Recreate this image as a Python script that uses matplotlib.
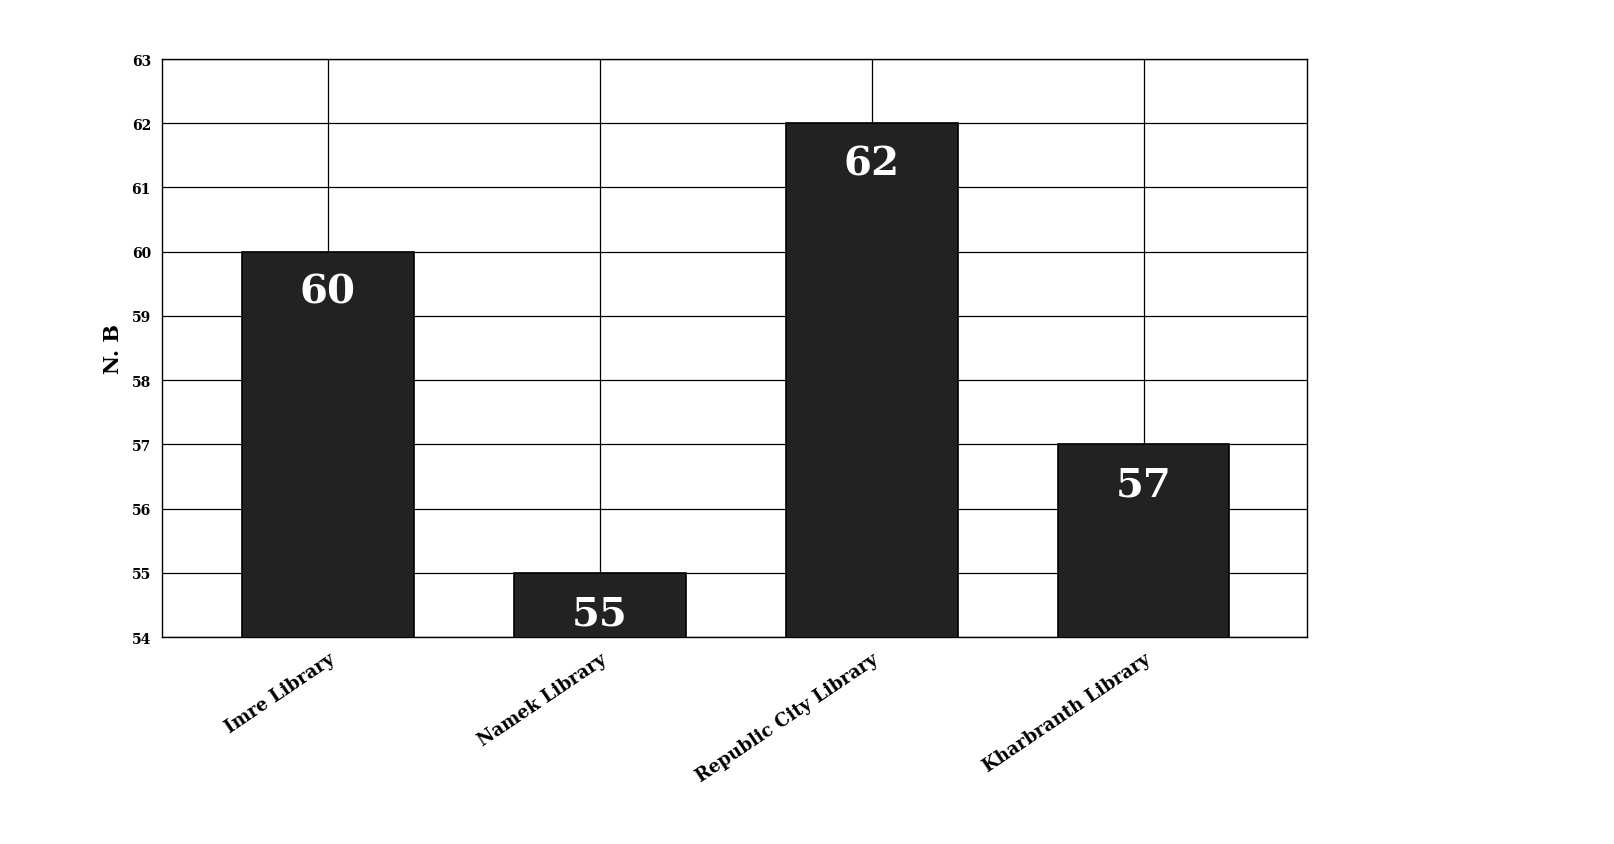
import numpy as np
import matplotlib.pyplot as plt

libraries = ['Imre Library', 'Namek Library', 'Republic City Library', 'Kharbranth Library']
counts = [60, 55, 62, 57]
y_ticks = list(range(54, 64))

plt.rcParams['font.family'] = ['DejaVu Serif', 'DejaVu Sans']

W, H = 1615, 845
fig = plt.figure(figsize=(W / 100, H / 100), dpi=100)
ax = fig.add_axes([162 / W, 1 - 638 / H, (1307 - 162) / W, (638 - 60) / H])

x = np.arange(len(libraries))
bars = ax.bar(x, counts, width=0.63, color='#222222', edgecolor='black', linewidth=1.2, zorder=3)

# value labels inside the top of each bar
for b, v in zip(bars, counts):
    ax.annotate(str(v), (b.get_x() + b.get_width() / 2, v), xytext=(0, -29), textcoords='offset points',
                ha='center', va='center', color='white', fontsize=29, fontweight='bold', zorder=4)

ax.set_ylim(54, 63)
ax.set_xlim(-0.61, 3.6)
ax.set_yticks(y_ticks)
ax.set_yticklabels([str(t) for t in y_ticks], fontsize=10, fontweight='bold')
ax.set_xticks(x)
ax.set_xticklabels(libraries, rotation=34, ha='right', rotation_mode='anchor', fontsize=13, fontweight='bold')
ax.tick_params(length=0, pad=8)
ax.tick_params(axis='x', pad=9)
ax.set_ylabel('N. B', fontsize=15, fontweight='bold', labelpad=6)

ax.grid(True, color='black', linewidth=0.9, zorder=0)
for s in ax.spines.values():
    s.set_color('black')
    s.set_linewidth(1.0)

fig.savefig('out.png', dpi=100)
